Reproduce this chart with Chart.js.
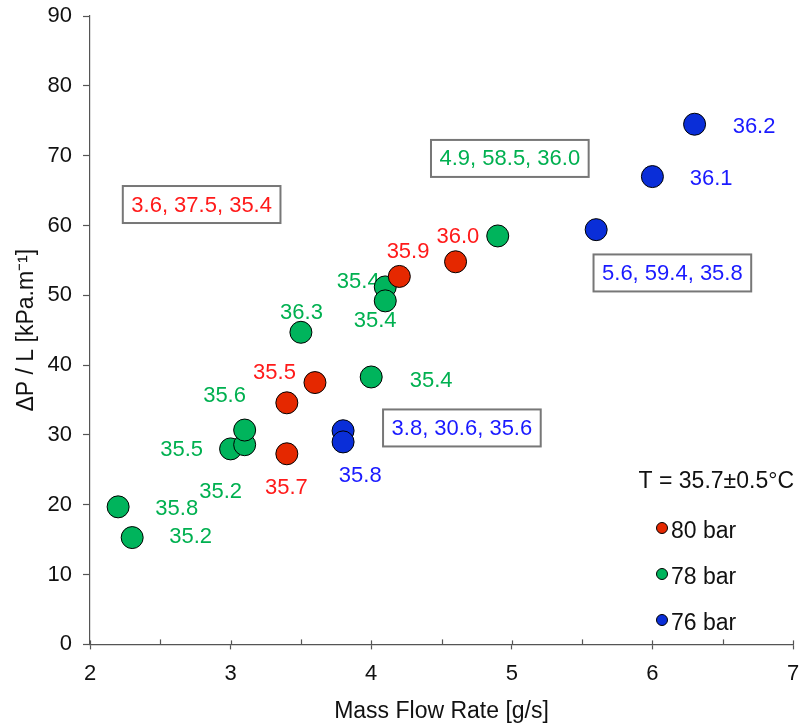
<!DOCTYPE html>
<html>
<head>
<meta charset="utf-8">
<script src="https://cdn.jsdelivr.net/npm/chart.js@4"></script>
<style>
  html, body { margin: 0; padding: 0; background: #fff; }
  #wrap { width: 805px; height: 727px; }
</style>
</head>
<body>
<div id="wrap"><canvas id="chart"></canvas></div>
<script>
// ---------- Data ----------
const seriesNames = ['80 bar', '78 bar', '76 bar'];

const bar80X = [3.4, 3.4, 3.6, 4.2, 4.6];
const bar80Y = [27.3, 34.6, 37.5, 52.7, 54.8];

const bar78X = [2.2, 2.3, 3.0, 3.1, 3.1, 3.5, 4.0, 4.1, 4.1, 4.9];
const bar78Y = [19.7, 15.3, 28.0, 28.6, 30.7, 44.7, 38.3, 51.2, 49.2, 58.5];

const bar76X = [3.8, 3.8, 5.6, 6.0, 6.3];
const bar76Y = [30.6, 29.0, 59.4, 67.0, 74.5];

// temperature notes (text, series index, anchor in data units)
const noteText   = ['35.7','35.5','35.9','36.0',
                    '35.8','35.2','35.5','35.2','35.6','36.3','35.4','35.4','35.4',
                    '35.8','36.1','36.2'];
const noteSeries = [0,0,0,0, 1,1,1,1,1,1,1,1,1, 2,2,2];
const noteX      = [3.397,3.312,4.262,4.617,
                    2.617,2.716,2.652,2.929,2.957,3.504,4.426,4.028,3.908,
                    3.922,6.418,6.723];
const noteY      = [22.4,38.9,56.2,58.4,
                    19.4,15.4,27.8,21.8,35.6,47.5,37.7,46.3,51.9,
                    24.1,66.7,74.1];

// boxed notes: "flow, dP/L, T"
const boxText   = ['3.6, 37.5, 35.4', '4.9, 58.5, 36.0', '5.6, 59.4, 35.8', '3.8, 30.6, 35.6'];
const boxSeries = [0, 1, 2, 2];
const boxX      = [2.794, 4.986, 6.142, 4.645];
const boxY      = [63.0, 69.6, 53.2, 31.0];

const tempLabel = 'T = 35.7\u00b10.5\u00b0C';

// ---------- Styles ----------
const FONT = '"Liberation Sans", Arial, Helvetica, sans-serif';
const fillColors = ['#e52800', '#00b45c', '#0a2ed8'];
const textColors = ['#ff1a1a', '#00b050', '#1a1aff'];
const AXIS = '#555';

const toPts = (xs, ys) => xs.map((v, i) => ({ x: v, y: ys[i] }));

const notesPlugin = {
  id: 'notes',
  beforeDatasetsDraw(chart) {
    const { ctx, scales: { x, y } } = chart;
    ctx.save();
    ctx.font = '22px ' + FONT;
    ctx.textAlign = 'center';
    ctx.textBaseline = 'middle';
    noteText.forEach((t, i) => {
      ctx.fillStyle = textColors[noteSeries[i]];
      ctx.fillText(t, x.getPixelForValue(noteX[i]), y.getPixelForValue(noteY[i]));
    });
    boxText.forEach((t, i) => {
      const cx = x.getPixelForValue(boxX[i]);
      const cy = y.getPixelForValue(boxY[i]);
      const w = ctx.measureText(t).width + 17;
      const h = 37;
      ctx.fillStyle = '#fff';
      ctx.fillRect(cx - w / 2, cy - h / 2, w, h);
      ctx.strokeStyle = '#777';
      ctx.lineWidth = 2;
      ctx.strokeRect(cx - w / 2, cy - h / 2, w, h);
      ctx.fillStyle = textColors[boxSeries[i]];
      ctx.fillText(t, cx, cy + 1);
    });
    ctx.restore();
  },
  afterDraw(chart) {
    const { ctx, scales: { x, y } } = chart;
    const y0 = y.getPixelForValue(0);
    ctx.save();
    // x ticks: majors poke up a bit, minors at half steps
    ctx.strokeStyle = AXIS;
    ctx.lineWidth = 1.2;
    for (let v = 2; v <= 7; v += 0.5) {
      const px = Math.round(x.getPixelForValue(v)) + 0.5;
      ctx.beginPath();
      ctx.moveTo(px, y0);
      ctx.lineTo(px, y0 - (Number.isInteger(v) ? 4 : 5));
      ctx.stroke();
    }
    // legend
    ctx.font = '23px ' + FONT;
    ctx.fillStyle = '#111';
    ctx.textAlign = 'right';
    ctx.textBaseline = 'middle';
    ctx.fillText(tempLabel, 794, 482);
    ctx.textAlign = 'left';
    chart.data.datasets.forEach((ds, i) => {
      const ly = 528 + i * 46;
      ctx.beginPath();
      ctx.arc(662, ly, 5.5, 0, Math.PI * 2);
      ctx.fillStyle = ds.backgroundColor;
      ctx.fill();
      ctx.strokeStyle = '#000';
      ctx.lineWidth = 1;
      ctx.stroke();
      ctx.fillStyle = '#111';
      ctx.fillText(ds.label, 671, ly + 4);
    });
    ctx.restore();
  }
};

const mkSet = (i, xs, ys) => ({
  label: seriesNames[i],
  data: toPts(xs, ys),
  backgroundColor: fillColors[i],
  borderColor: '#000',
  borderWidth: 1,
  pointRadius: 11,
  pointHoverRadius: 11
});

new Chart(document.getElementById('chart'), {
  type: 'scatter',
  data: {
    datasets: [
      mkSet(0, bar80X, bar80Y),
      mkSet(1, bar78X, bar78Y),
      mkSet(2, bar76X, bar76Y)
    ]
  },
  options: {
    responsive: true,
    maintainAspectRatio: false,
    animation: false,
    layout: { padding: { top: 16, right: 10, bottom: 0, left: 0 } },
    plugins: { legend: { display: false }, tooltip: { enabled: false } },
    scales: {
      x: {
        type: 'linear', min: 2, max: 7,
        afterFit: (s) => { s.height = 82.6; s.paddingLeft = 0; s.paddingRight = 0; },
        ticks: { stepSize: 1, padding: 11, color: '#111', font: { family: FONT, size: 22 } },
        grid: { drawOnChartArea: false, tickLength: 5, tickColor: AXIS, tickWidth: 1.2 },
        border: { color: AXIS, width: 1.2 },
        title: { display: true, text: 'Mass Flow Rate [g/s]', color: '#111',
                 font: { family: FONT, size: 23 }, padding: { top: 0, bottom: 2 } }
      },
      y: {
        type: 'linear', min: 0, max: 90,
        afterFit: (s) => { s.width = 90; s.paddingTop = 0; s.paddingBottom = 0; },
        ticks: { stepSize: 10, padding: 11, color: '#111', font: { family: FONT, size: 22 } },
        grid: { drawOnChartArea: false, tickLength: 7, tickColor: AXIS, tickWidth: 1.2 },
        border: { color: AXIS, width: 1.2 },
        title: { display: true, text: '\u0394P / L [kPa.m\u207b\u00b9]', color: '#111',
                 font: { family: FONT, size: 23 }, padding: { top: 13, bottom: 0 } }
      }
    }
  },
  plugins: [notesPlugin]
});
</script>
</body>
</html>
